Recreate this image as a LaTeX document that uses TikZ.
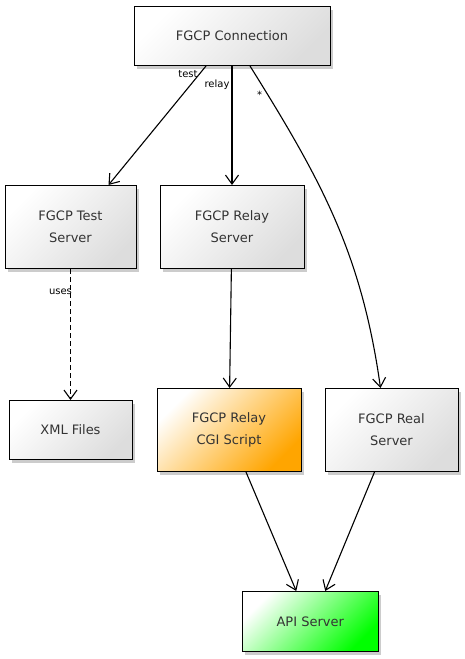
\documentclass[tikz,border=0pt]{standalone}
\usepackage{fontspec}
\setmainfont{DejaVu Sans}
\usetikzlibrary{arrows.meta,positioning,calc,shadows}

\definecolor{cgiorange}{HTML}{FFA500}
\definecolor{apigreen}{HTML}{00FF00}
\definecolor{boxgray}{HTML}{DDDDDD}

\tikzset{
  box/.style={draw,rectangle,line width=1pt,align=center,text=black!80,
    font=\fontsize{13}{22}\selectfont,inner sep=0pt,
    top color=white,bottom color=#1,shading angle=45,
    drop shadow={shadow xshift=3pt,shadow yshift=-3pt,fill=black,opacity=.2}},
  box/.default=boxgray,
  lbl/.style={font=\fontsize{10}{12}\selectfont,inner sep=1pt,text=black}
}

\begin{document}
\begin{tikzpicture}[x=1pt,y=1pt,>={Straight Barb[length=9pt,width=13pt]}]
      \useasboundingbox (0,0) rectangle (464,-659);
      \node[box,minimum width=196pt,minimum height=59pt] (conn) at (232,-36) {FGCP Connection};
      \node[box,minimum width=144pt,minimum height=83pt,below = 119pt of conn] (relay) {FGCP Relay\\Server};
      \node[box,minimum width=131pt,minimum height=83pt,left = 23pt of relay] (test) {FGCP Test\\Server};
      \node[box,minimum width=123pt,minimum height=59pt,below = 131pt of test] (xml) {XML Files};

      \node[box=cgiorange,minimum width=144pt,minimum height=83pt,below = 119pt of relay,xshift=-3pt] (cgi) {FGCP Relay\\CGI Script};
      \node[box,minimum width=133pt,minimum height=83pt,right = 23pt of cgi] (real) {FGCP Real\\Server};
      \coordinate (mid) at ($(cgi.south)!.5!(real.south)$);
      \node[box=apigreen,minimum width=136pt,minimum height=60pt,below = 119pt of mid] (api) {API Server};

      \draw[line width=1.1pt,->] ([xshift=-26pt]conn.south) -- node[lbl,pos=.07,left] {test} ([xshift=38pt]test.north);
      \draw[line width=1.1pt,->] (conn) -- node[lbl,pos=.16,left=1pt] {relay} (relay);
      \draw[line width=1.1pt,->] ([xshift=18pt]conn.south) to[out=-58,in=98] node[lbl,pos=.085,left=4pt] {*} ([xshift=-11pt]real.north);

      \draw[line width=1.1pt,dash pattern=on 5pt off 3pt,->] (test) -- node[lbl,pos=.17,left=-3pt] {uses} (xml);
      \draw[line width=1.1pt,->] (relay) -- (cgi);

      \draw[line width=1.1pt,->] ([xshift=17pt]cgi.south) -- ([xshift=-14pt]api.north);
      \draw[line width=1.1pt,->] ([xshift=-17pt]real.south) -- ([xshift=15pt]api.north);
\end{tikzpicture}
\end{document}
